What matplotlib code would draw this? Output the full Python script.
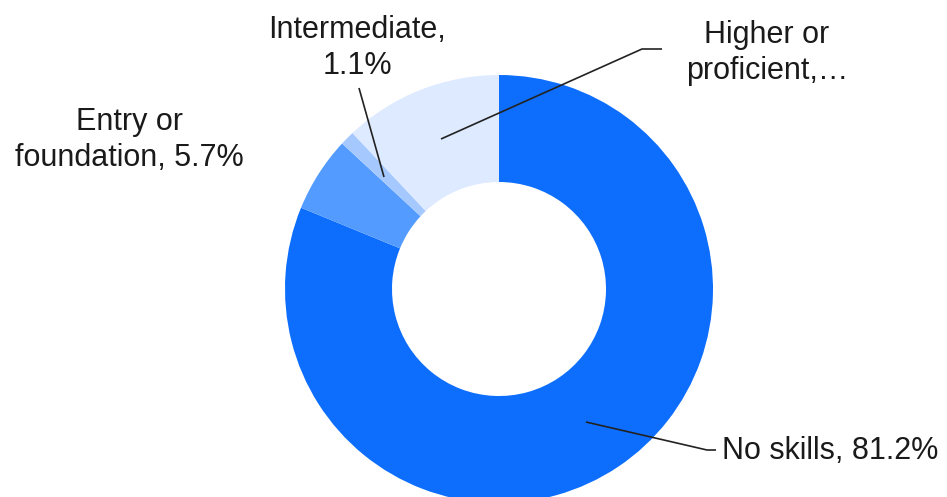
import matplotlib
matplotlib.use("Agg")
import matplotlib.pyplot as plt

# Daten
kategorien = ["No skills", "Entry or\nfoundation", "Intermediate", "Higher or\nproficient"]
anteile = [81.2, 5.7, 1.1, 12.0]
farben = ["#0D6EFD", "#539BFF", "#A5C9FF", "#DDEAFF"]
labels = ["No skills, 81.2%", "Entry or\nfoundation, 5.7%", "Intermediate,\n1.1%", "Higher or\nproficient,\u2026"]

plt.rcParams["font.family"] = ["Liberation Sans", "DejaVu Sans"]

W, H = 947, 497
cx, cy, r = 499, 289, 214   # Mitte und Radius in Pixeln


def px(x, y):
    # Pixel (von oben links) -> Datenkoordinaten
    return (x - cx) / r, (cy - y) / r


fig = plt.figure(figsize=(W / 100, H / 100), dpi=100)
ax = fig.add_axes([0, 0, 1, 1])

ax.pie(anteile, colors=farben, startangle=90, counterclock=False,
       radius=1, wedgeprops=dict(width=0.5, linewidth=0))

ax.set_xlim(-cx / r, (W - cx) / r)
ax.set_ylim(-(H - cy) / r, cy / r)
ax.set_aspect("auto")
ax.axis("off")

fs = 22
txt = dict(fontsize=fs, color="#1a1a1a", linespacing=1.22)

# Beschriftungen
ax.text(*px(722, 451), labels[0], ha="left", va="center", **txt)
ax.text(*px(129, 140), labels[1], ha="center", va="center", **txt)
ax.text(*px(357, 48), labels[2], ha="center", va="center", **txt)
ax.text(*px(767, 53), labels[3], ha="center", va="center", **txt)

# Hinweislinien
linie = dict(color="#222222", linewidth=1.2, solid_capstyle="butt")
for pts in [
    [(586, 422), (707, 450), (716, 450)],
    [(359, 88), (384, 177)],
    [(662, 49), (642, 49), (441, 139)],
]:
    xs, ys = zip(*[px(x, y) for x, y in pts])
    ax.plot(xs, ys, **linie)

plt.savefig("out.png", dpi=100)
